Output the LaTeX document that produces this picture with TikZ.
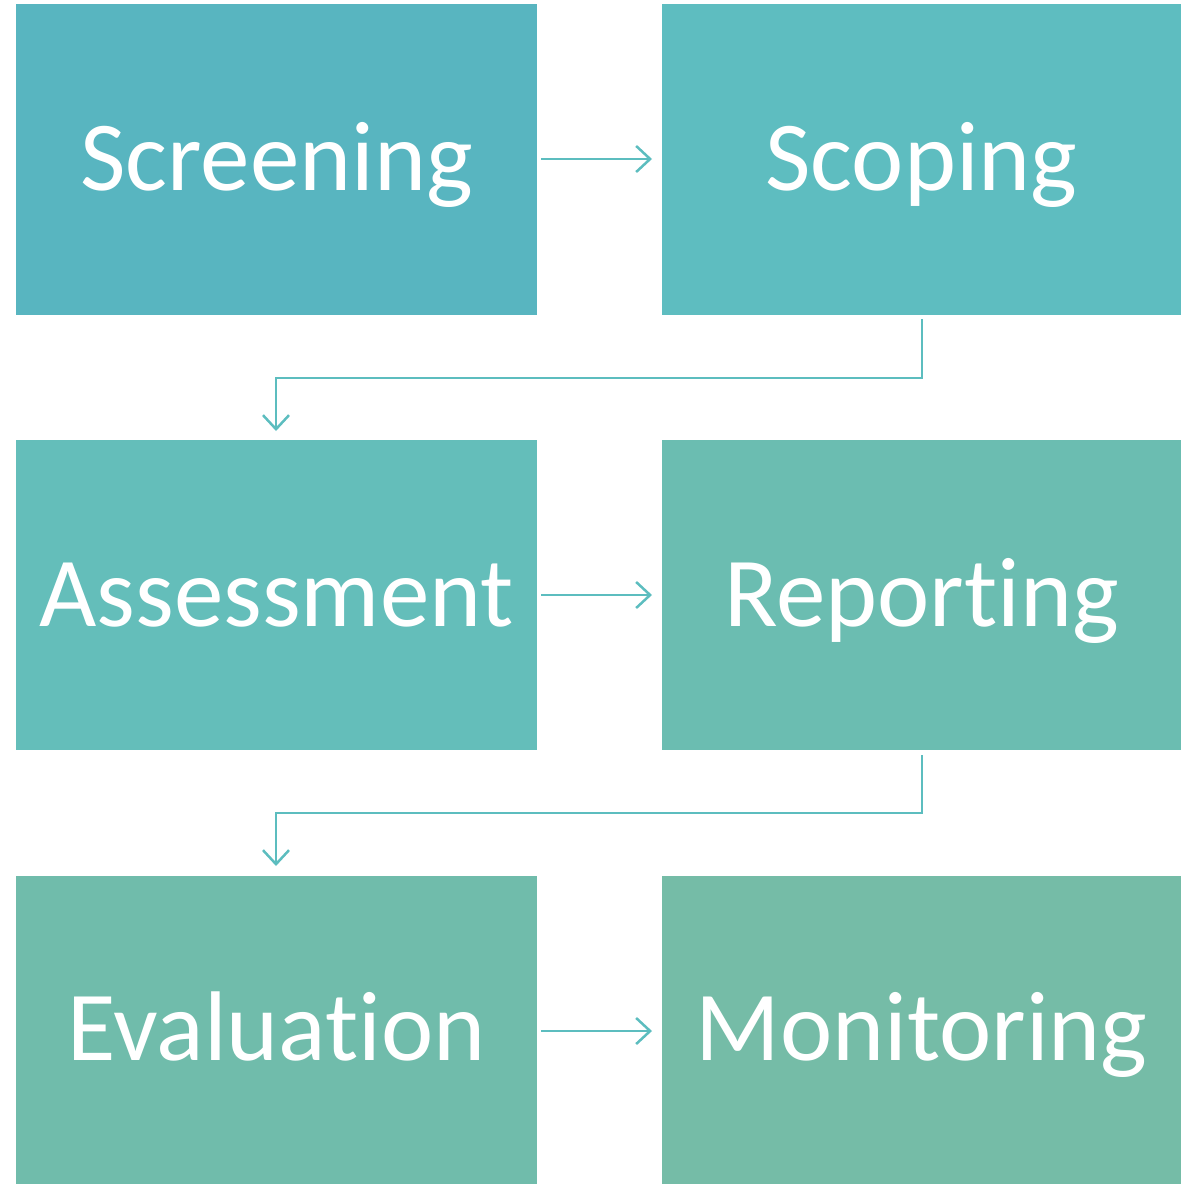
\documentclass[tikz,border=0pt]{standalone}
\usepackage{fontspec}
\setmainfont[Ligatures={NoCommon}]{Carlito}
\usetikzlibrary{arrows.meta}
\definecolor{cA}{HTML}{58B5C0}
\definecolor{cB}{HTML}{5EBDC0}
\definecolor{cC}{HTML}{64BEBA}
\definecolor{cD}{HTML}{6BBDB1}
\definecolor{cE}{HTML}{70BCAB}
\definecolor{cF}{HTML}{75BCA7}
\definecolor{cArr}{HTML}{5CBDBF}
\begin{document}
\begin{tikzpicture}[x=1pt,y=-1pt,
  boxst/.style={fill=#1,draw=none},
  lbl/.style={text=white,font=\fontsize{99}{110}\selectfont,anchor=base,inner sep=0pt},
  conn/.style={draw=cArr,line width=2.5pt,-{Straight Barb[length=14pt,width=26pt,line width=2.5pt]}}]
\useasboundingbox (0,0) rectangle (1181,1184);
\fill[boxst=cA] (16,4) rectangle (537,315);
\fill[boxst=cB] (662,4) rectangle (1181,315);
\fill[boxst=cC] (16,440) rectangle (537,750);
\fill[boxst=cD] (662,440) rectangle (1181,750);
\fill[boxst=cE] (16,876) rectangle (537,1184);
\fill[boxst=cF] (662,876) rectangle (1181,1184);
\node[lbl] (screening) at (276.5,190) {Screening};
\node[lbl] (scoping) at (921.5,190) {Scoping};
\node[lbl] (assessment) at (276.5,626) {Assessment};
\node[lbl] (reporting) at (921.5,626) {Reporting};
\node[lbl] (evaluation) at (276.5,1060) {Evaluation};
\node[lbl] (monitoring) at (921.5,1060) {Monitoring};
\coordinate (a1) at (541,159); \coordinate (b1) at (652,159);
\coordinate (a2) at (541,595); \coordinate (b2) at (652,595);
\coordinate (a3) at (541,1031); \coordinate (b3) at (652,1031);
\coordinate (s1) at (922,319); \coordinate (t1) at (276,431);
\coordinate (s2) at (922,755); \coordinate (t2) at (276,866);
\draw[conn] (a1) -- (b1);
\draw[conn] (a2) -- (b2);
\draw[conn] (a3) -- (b3);
\draw[conn] (s1) -- (922,378) -- (276,378) -- (t1);
\draw[conn] (s2) -- (922,813) -- (276,813) -- (t2);
\end{tikzpicture}
\end{document}
